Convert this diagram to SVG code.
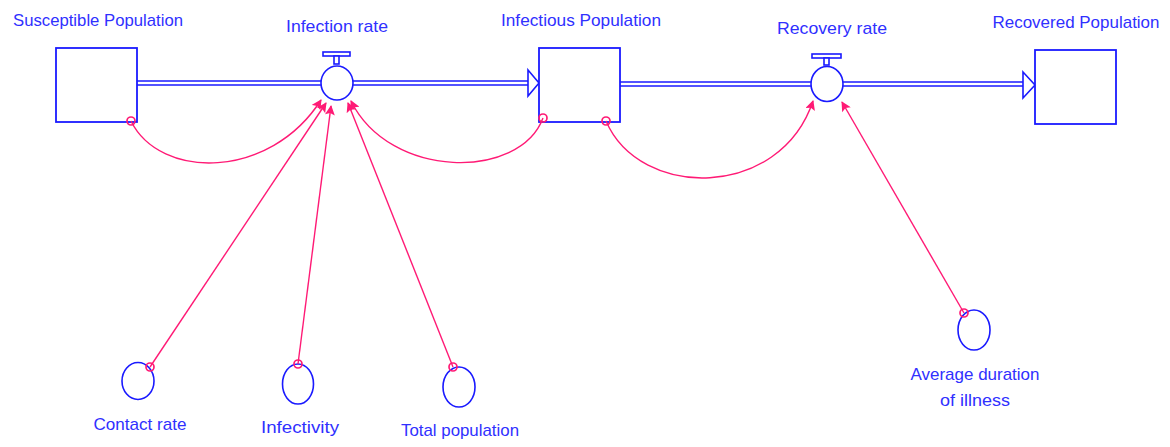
<svg xmlns="http://www.w3.org/2000/svg" width="1170" height="447" viewBox="0 0 1170 447">
<defs>
<style>
.lbl{font-family:"Liberation Sans",Arial,sans-serif;font-size:17px;fill:#3030ff;text-anchor:middle}
.stock{fill:#fff;stroke:#1a1aff;stroke-width:1.8}
.pipe{stroke:#1a1aff;stroke-width:1.6;fill:none}
.valve{fill:#fff;stroke:#1a1aff;stroke-width:1.6}
.aux{fill:#fff;stroke:#1a1aff;stroke-width:1.6}
.link{fill:none;stroke:#ff1a75;stroke-width:1.4;marker-end:url(#ah)}
.org{fill:none;stroke:#ff1a75;stroke-width:1.7}
.flowhead{fill:#fff;stroke:#1a1aff;stroke-width:1.6}
</style>
<marker id="ah" viewBox="0 0 10 10" refX="9" refY="5" markerWidth="13" markerHeight="10" markerUnits="userSpaceOnUse" orient="auto">
<path d="M0,0 L10,5 L0,10 L2,5 Z" fill="#ff1a75"/>
</marker>
</defs>

<g id="flows">
<line class="pipe" x1="137" y1="81" x2="322" y2="81"/>
<line class="pipe" x1="137" y1="85" x2="322" y2="85"/>
<line class="pipe" x1="352" y1="81" x2="528" y2="81"/>
<line class="pipe" x1="352" y1="85" x2="528" y2="85"/>
<polygon class="flowhead" points="528,70 539,83 528,96"/>
<line class="pipe" x1="620" y1="82" x2="812" y2="82"/>
<line class="pipe" x1="620" y1="86" x2="812" y2="86"/>
<line class="pipe" x1="842" y1="82" x2="1023" y2="82"/>
<line class="pipe" x1="842" y1="86" x2="1023" y2="86"/>
<polygon class="flowhead" points="1023,72 1035,85 1023,98"/>
</g>

<g id="susceptible">
<rect class="stock" x="56" y="48" width="81" height="74"/>
<text class="lbl" x="98" y="26" textLength="170" lengthAdjust="spacingAndGlyphs">Susceptible Population</text>
</g>

<g id="infectious">
<rect class="stock" x="539" y="48" width="81" height="74"/>
<text class="lbl" x="581" y="26" textLength="160" lengthAdjust="spacingAndGlyphs">Infectious Population</text>
</g>

<g id="recovered">
<rect class="stock" x="1035" y="50" width="81" height="74"/>
<text class="lbl" x="1076" y="28" textLength="167" lengthAdjust="spacingAndGlyphs">Recovered Population</text>
</g>

<g id="infection-rate">
<rect class="valve" x="323" y="52" width="27" height="4"/>
<rect class="valve" x="334" y="56" width="5" height="8"/>
<ellipse class="valve" cx="337" cy="83" rx="16" ry="17"/>
<text class="lbl" x="337" y="32" textLength="102" lengthAdjust="spacingAndGlyphs">Infection rate</text>
</g>

<g id="recovery-rate">
<rect class="valve" x="812" y="54" width="29" height="4"/>
<rect class="valve" x="824" y="58" width="5" height="7"/>
<ellipse class="valve" cx="827" cy="84" rx="16" ry="17.5"/>
<text class="lbl" x="832" y="34" textLength="110" lengthAdjust="spacingAndGlyphs">Recovery rate</text>
</g>

<g id="contact-rate">
<ellipse class="aux" cx="138" cy="381" rx="16" ry="18.5"/>
<text class="lbl" x="140" y="430" textLength="93" lengthAdjust="spacingAndGlyphs">Contact rate</text>
</g>

<g id="infectivity">
<ellipse class="aux" cx="298" cy="384" rx="15.5" ry="20"/>
<text class="lbl" x="300" y="433" textLength="78" lengthAdjust="spacingAndGlyphs">Infectivity</text>
</g>

<g id="total-population">
<ellipse class="aux" cx="459" cy="387" rx="16" ry="20"/>
<text class="lbl" x="460" y="436" textLength="118" lengthAdjust="spacingAndGlyphs">Total population</text>
</g>

<g id="average-duration">
<ellipse class="aux" cx="974" cy="330" rx="16" ry="20"/>
<text class="lbl" x="975" y="380" textLength="129" lengthAdjust="spacingAndGlyphs">Average duration</text>
<text class="lbl" x="975" y="406" textLength="70" lengthAdjust="spacingAndGlyphs">of illness</text>
</g>

<g id="connectors">
<path class="link" d="M131,121 C160,180 270,180 321,100"/>
<path class="link" d="M543,118 C520,180 390,180 351,101"/>
<path class="link" d="M606,121 C640,200 780,200 813,101"/>
<path class="link" d="M150,367 L326,103"/>
<path class="link" d="M298,364 L331,106"/>
<path class="link" d="M453,367 L348,103"/>
<path class="link" d="M964,313 L842,102"/>
<circle class="org" cx="131" cy="121" r="4"/>
<circle class="org" cx="543" cy="118" r="4"/>
<circle class="org" cx="606" cy="121" r="4"/>
<circle class="org" cx="150" cy="367" r="4"/>
<circle class="org" cx="298" cy="364" r="4"/>
<circle class="org" cx="453" cy="367" r="4"/>
<circle class="org" cx="964" cy="313" r="4"/>
</g>
</svg>
